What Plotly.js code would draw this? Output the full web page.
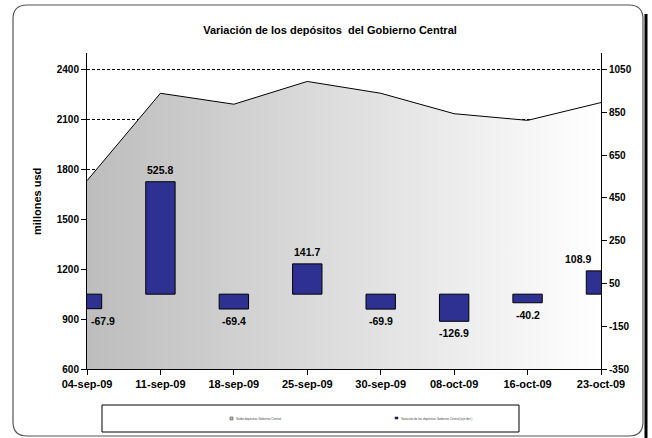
<!DOCTYPE html>
<html>
<head>
<meta charset="utf-8">
<script src="https://cdn.plot.ly/plotly-3.0.1.min.js"></script>
<style>
  html, body { margin: 0; padding: 0; background: #ffffff; }
  #chart { width: 652px; height: 438px; }
</style>
</head>
<body>
<div id="chart"></div>
<script>
// ---- data ----
const categories = ['04-sep-09', '11-sep-09', '18-sep-09', '25-sep-09', '30-sep-09', '08-oct-09', '16-oct-09', '23-oct-09'];
const saldo = [1732, 2258, 2192, 2329, 2258, 2135, 2095, 2202];          // left axis (area)
const variacion = [-67.9, 525.8, -69.4, 141.7, -69.9, -126.9, -40.2, 108.9]; // right axis (bars)
const leftTicks = [600, 900, 1200, 1500, 1800, 2100, 2400];
const rightTicks = [-350, -150, 50, 250, 450, 650, 850, 1050];
const legendNames = ['Saldo depósitos Gobierno Central', 'Variación de los depósitos Gobierno Central (eje der.)'];
const titleText = 'Variación de los depósitos  del Gobierno Central';
const yTitle = 'millones usd';

// ---- geometry helpers (plot area in px) ----
const W = 652, H = 438;
const PL = 87, PR = 601, PT = 53, PB = 369;
const X = px => (px - PL) / (PR - PL);
const Y = py => (PB - py) / (PB - PT);

const yRange = [600, 2500];
const y2Min = -350, y2Span = 1400 / 1800;
const y2Range = [y2Min, y2Min + (yRange[1] - yRange[0]) * y2Span];

const FONT = 'Liberation Sans, Arial, sans-serif';

const areaTrace = {
  type: 'scatter', mode: 'lines', x: categories, y: saldo, name: legendNames[0],
  line: { color: '#000000', width: 1 },
  fill: 'tozeroy', fillcolor: '#d8d8d8',
  fillgradient: { type: 'horizontal', colorscale: [[0, '#bdbdbd'], [1, '#ffffff']] },
  hoverinfo: 'skip', yaxis: 'y'
};
const barTrace = {
  type: 'bar', x: categories, y: variacion, name: legendNames[1], yaxis: 'y2',
  marker: { color: '#2e3191', line: { color: '#000000', width: 1 } },
  hoverinfo: 'skip'
};

// bar value labels
const labelShift = categories.map((c, i) => i === 0 ? 16 : (i === categories.length - 1 ? -23 : 0));
const barLabels = variacion.map((v, i) => ({
  x: categories[i], y: v, xref: 'x', yref: 'y2',
  text: '<b>' + v.toFixed(1) + '</b>', showarrow: false,
  xanchor: 'center', yanchor: v >= 0 ? 'bottom' : 'top',
  xshift: labelShift[i], yshift: v >= 0 ? 4 : -4,
  font: { family: FONT, size: 10.5, color: '#000000' }
}));

// frame path (rounded rectangle)
const fL = 13, fT = 5, fR = 643, fB = 436, r = 14;
const framePath = [
  'M', X(fL + r), Y(fT), 'L', X(fR - r), Y(fT),
  'Q', X(fR), Y(fT), X(fR), Y(fT + r),
  'L', X(fR), Y(fB - r),
  'Q', X(fR), Y(fB), X(fR - r), Y(fB),
  'L', X(fL + r), Y(fB),
  'Q', X(fL), Y(fB), X(fL), Y(fB - r),
  'L', X(fL), Y(fT + r),
  'Q', X(fL), Y(fT), X(fL + r), Y(fT), 'Z'
].join(' ');

const shapes = [
  { type: 'line', xref: 'paper', yref: 'paper', x0: X(646), x1: X(646), y0: Y(14), y1: Y(440), line: { color: '#000000', width: 3 } },
  { type: 'path', xref: 'paper', yref: 'paper', path: framePath, line: { color: '#555555', width: 1.2 }, fillcolor: 'rgba(0,0,0,0)' },
  // legend box
  { type: 'rect', xref: 'paper', yref: 'paper', x0: X(102), x1: X(519), y0: Y(405), y1: Y(432), line: { color: '#000000', width: 1 }, fillcolor: '#ffffff' },
  // legend markers
  { type: 'rect', xref: 'paper', yref: 'paper', x0: X(230), x1: X(233), y0: Y(417), y1: Y(420), line: { color: '#333333', width: 0.5 }, fillcolor: '#bdbdbd' },
  { type: 'rect', xref: 'paper', yref: 'paper', x0: X(395), x1: X(398), y0: Y(417), y1: Y(419), line: { color: '#000000', width: 0.5 }, fillcolor: '#2e3191' }
];

const legendText = [
  { xref: 'paper', yref: 'paper', x: X(234), y: Y(418.5), xanchor: 'left', yanchor: 'middle', text: legendNames[0], showarrow: false, font: { family: FONT, size: 3, color: '#444444' } },
  { xref: 'paper', yref: 'paper', x: X(399), y: Y(418.5), xanchor: 'left', yanchor: 'middle', text: legendNames[1], showarrow: false, font: { family: FONT, size: 3, color: '#444444' } }
];

const yTitleAnn = {
  xref: 'paper', yref: 'paper', x: X(37), y: Y(202), xanchor: 'center', yanchor: 'middle',
  text: '<b>' + yTitle + '</b>', textangle: -90, showarrow: false,
  font: { family: FONT, size: 11, color: '#000000' }
};

const tickFont = { family: FONT, size: 10, color: '#000000', weight: 'bold' };

const layout = {
  width: W, height: H,
  margin: { l: PL, r: W - PR, t: PT, b: H - PB, pad: 0 },
  paper_bgcolor: '#ffffff', plot_bgcolor: '#ffffff',
  showlegend: false,
  bargap: 0.6,
  title: {
    text: '<b>' + titleText + '</b>',
    x: 330 / W, xref: 'container', xanchor: 'center',
    y: 1 - 30 / H, yref: 'container', yanchor: 'middle',
    font: { family: FONT, size: 11, color: '#000000' }
  },
  xaxis: {
    type: 'category', range: [0, categories.length - 1],
    showline: true, linecolor: '#000000', linewidth: 1,
    ticks: 'outside', ticklen: 5, tickcolor: '#000000', tickwidth: 1,
    showgrid: false, zeroline: false,
    tickfont: { family: FONT, size: 11, color: '#000000', weight: 'bold' },
    fixedrange: true
  },
  yaxis: {
    range: yRange, tickmode: 'array', tickvals: leftTicks, ticktext: leftTicks.map(String),
    showline: true, linecolor: '#000000', linewidth: 1,
    ticks: 'outside', ticklen: 5, tickcolor: '#000000', tickwidth: 1,
    showgrid: true, gridcolor: '#000000', gridwidth: 1, griddash: '3px,2px',
    zeroline: false, tickfont: tickFont, fixedrange: true
  },
  yaxis2: {
    overlaying: 'y', side: 'right',
    range: y2Range, tickmode: 'array', tickvals: rightTicks, ticktext: rightTicks.map(String),
    showline: true, linecolor: '#000000', linewidth: 1,
    ticks: 'outside', ticklen: 5, tickcolor: '#000000', tickwidth: 1,
    showgrid: false, zeroline: false, tickfont: tickFont, fixedrange: true
  },
  shapes: shapes,
  annotations: barLabels.concat(legendText, [yTitleAnn])
};

Plotly.newPlot('chart', [areaTrace, barTrace], layout, { displayModeBar: false, staticPlot: true });
</script>
</body>
</html>
